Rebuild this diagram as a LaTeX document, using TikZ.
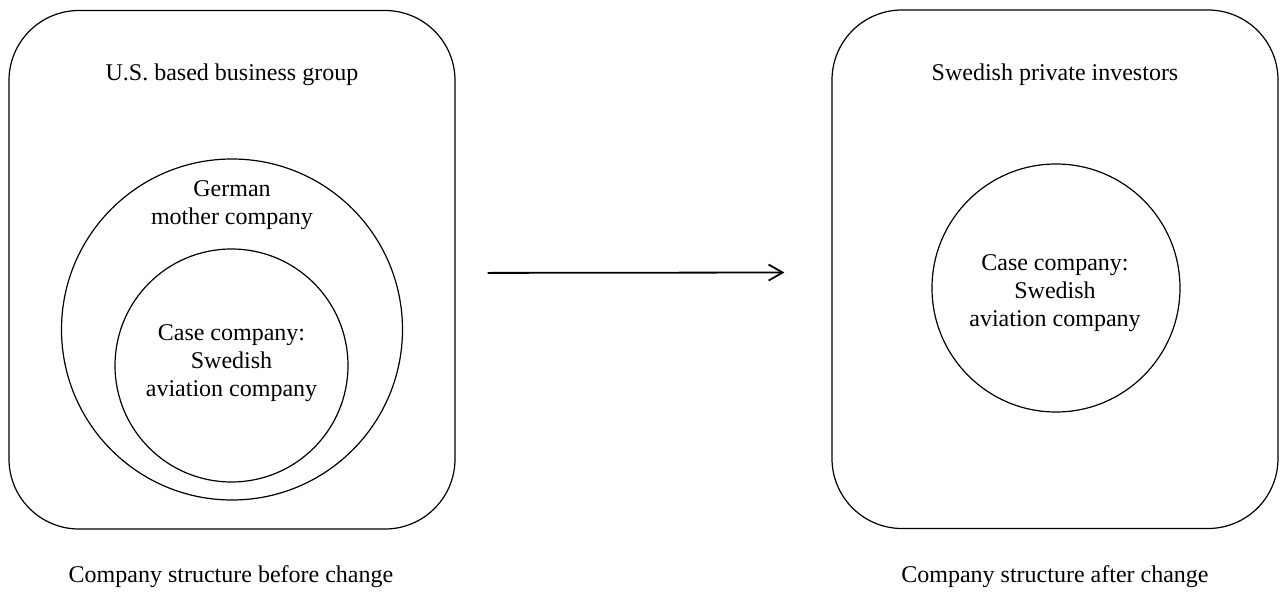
\documentclass[tikz,border=0pt]{standalone}
\usepackage{fontspec}
\setmainfont{Liberation Serif}
\usetikzlibrary{arrows.meta}

\begin{document}
\begin{tikzpicture}[x=0.5pt,y=-0.5pt,font=\fontsize{12}{14}\selectfont,
    owner/.style={draw,line width=0.6pt,rounded corners=35pt,minimum width=223pt,minimum height=259.25pt,inner sep=0pt},
    firm/.style={draw,circle,line width=0.6pt,inner sep=0pt},
    txt/.style={align=center,inner sep=0pt}]
  \useasboundingbox (0,0) rectangle (1282,593);
  % before change
  \node[owner] (usgrp) at (232,269.75) {};
  \node[txt,anchor=base] (usname) at (232,81) {U.S. based business group};
  \node[firm,minimum size=170.5pt] (mother) at (232,329.5) {};
  \node[txt] (mothername) at (232,205.5) {German\\mother company};
  \node[firm,minimum size=116.5pt] (caseold) at (231.5,365.5) {};
  \node[txt] (caseoldname) at (231.5,363) {Case company:\\Swedish\\aviation company};
  \node[txt,anchor=base] (before) at (231,583) {Company structure before change};
  % after change
  \node[owner] (swinv) at (1055,269.25) {};
  \node[txt,anchor=base] (swname) at (1055,81) {Swedish private investors};
  \node[firm,minimum size=124pt] (casenew) at (1056,288) {};
  \node[txt] (casenewname) at (1055,293) {Case company:\\Swedish\\aviation company};
  \node[txt,anchor=base] (after) at (1055,583) {Company structure after change};
  % change
  \draw[-{Straight Barb[length=7pt,width=8pt]},line width=0.9pt,shorten <=16pt,shorten >=23.5pt]
    ([yshift=-1.6pt]usgrp.east) -- ([yshift=-1.6pt]swinv.west);
\end{tikzpicture}
\end{document}
